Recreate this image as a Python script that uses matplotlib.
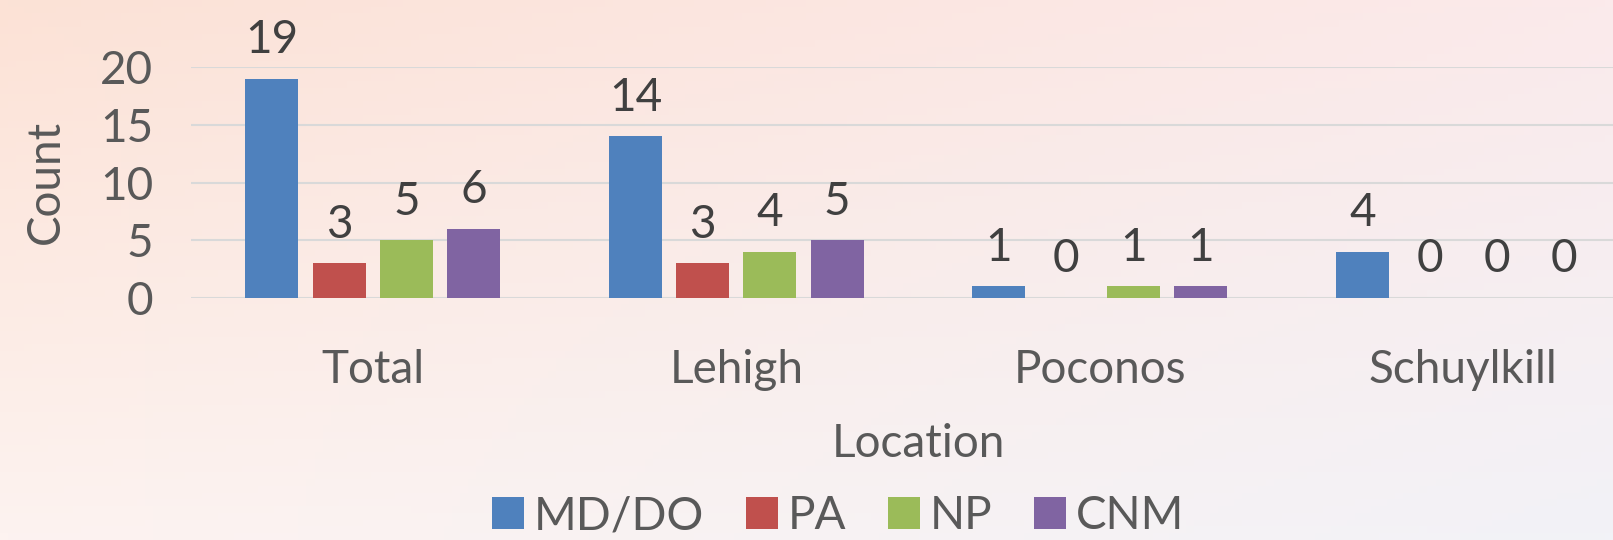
import numpy as np
import matplotlib
matplotlib.use("Agg")
import matplotlib.pyplot as plt
from matplotlib.patches import Patch

categories = ["Total", "Lehigh", "Poconos", "Schuylkill"]
series_names = ["MD/DO", "PA", "NP", "CNM"]
md_do = [19, 14, 1, 4]
pa = [3, 3, 0, 0]
np_vals = [5, 4, 1, 0]
cnm = [6, 5, 1, 0]
yticks = [0, 5, 10, 15, 20]
colors = ["#4F81BD", "#C0504D", "#9BBB59", "#8064A2"]

W, H = 1613, 540
plt.rcParams['font.family'] = ['Lato', 'DejaVu Sans']
fig = plt.figure(figsize=(W / 100, H / 100), dpi=100)

# background gradient
bg = fig.add_axes([0, 0, 1, 1], zorder=-10)
tl = np.array([252, 226, 214]) / 255
tr = np.array([251, 234, 235]) / 255
bl = np.array([253, 243, 240]) / 255
br = np.array([242, 242, 247]) / 255
u = np.linspace(0, 1, 200)[None, :, None]
v = np.linspace(0, 1, 80)[:, None, None]
img = (1 - v) * ((1 - u) * tl + u * tr) + v * ((1 - u) * bl + u * br)
bg.imshow(img, aspect='auto', extent=[0, 1, 0, 1], origin='upper')
bg.axis('off')

left, right = 191, 1645
top, bottom = 67, 298
ax = fig.add_axes([left / W, (H - bottom) / H, (right - left) / W, (bottom - top) / H])
ax.patch.set_alpha(0)

series = [md_do, pa, np_vals, cnm]
x = np.arange(len(categories))
step = 0.185
width = 0.146
for i, (name, vals, c) in enumerate(zip(series_names, series, colors)):
    xs = x + (i - 1.5) * step
    ax.bar(xs, vals, width, color=c, label=name, zorder=3)
    for xi, v_ in zip(xs, vals):
        ax.annotate(str(v_), (xi, v_), xytext=(0, 18.5), textcoords='offset points',
                    ha='center', va='baseline', fontsize=33, color='#404040',
                    annotation_clip=False)

ax.set_xlim(-0.5, len(categories) - 0.5)
ax.set_ylim(0, 20)
ax.set_yticks(yticks)
ax.set_yticklabels([str(t) for t in yticks])
ax.yaxis.grid(True, color='#d9d9d9', linewidth=1.5, zorder=0)
ax.set_axisbelow(True)
for s in ax.spines.values():
    s.set_visible(False)
ax.tick_params(axis='y', length=0, pad=27, labelsize=33, labelcolor='#595959')
ax.set_xticks(x)
ax.set_xticklabels(categories)
ax.tick_params(axis='x', length=0, pad=37, labelsize=33, labelcolor='#595959')

fig.text(46 / W, 1 - 182 / H, "Count", rotation=90, ha='center', va='center',
         fontsize=33, color='#595959')
fig.text((left + right) / 2 / W, 1 - 457 / H, "Location", ha='center', va='baseline',
         fontsize=33, color='#595959')

handles = [Patch(facecolor=c, edgecolor='none') for c in colors]
leg = fig.legend(handles, series_names, loc='center', bbox_to_anchor=(838 / W, 1 - 516 / H),
                 ncol=4, frameon=False, fontsize=33, handlelength=0.7, handleheight=0.7,
                 handletextpad=0.22, columnspacing=0.9, borderpad=0, borderaxespad=0)
for t in leg.get_texts():
    t.set_color('#595959')

fig.savefig("out.png", dpi=100)
